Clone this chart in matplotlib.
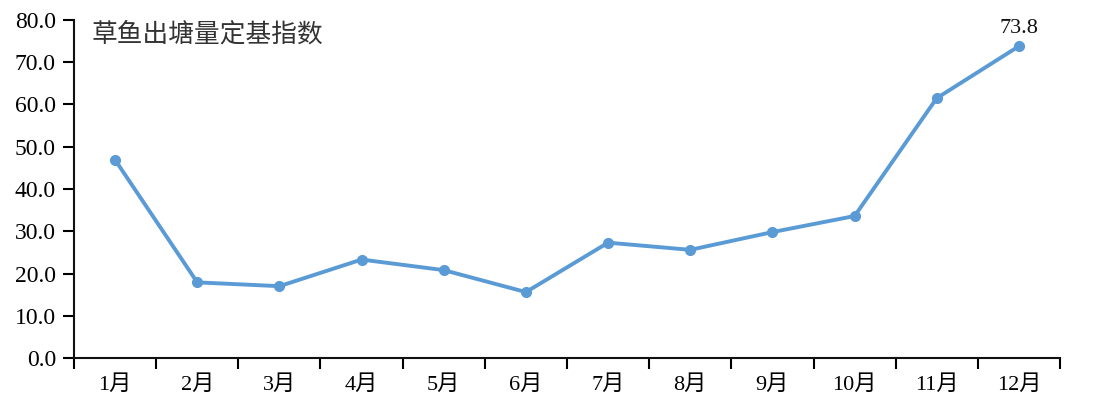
import numpy as np
import matplotlib.pyplot as plt

# data
months = ['1月', '2月', '3月', '4月', '5月', '6月', '7月', '8月', '9月', '10月', '11月', '12月']
index_vals = [46.9, 17.9, 17.0, 23.3, 20.8, 15.6, 27.3, 25.6, 29.8, 33.6, 61.5, 73.8]
y_ticks = [0, 10, 20, 30, 40, 50, 60, 70, 80]
title = '草鱼出塘量定基指数'

serif = ['Liberation Serif', 'Noto Sans CJK SC']
color = '#5B9BD5'

fig = plt.figure(figsize=(11.08, 4.19), dpi=100)
ax = fig.add_axes([74/1108, 61/419, 986/1108, 338/419])

x = np.arange(len(months))
ax.plot(x, index_vals, color=color, lw=2.8, marker='o', ms=7, zorder=3, clip_on=False)

# label on the last point
ax.annotate(f'{index_vals[-1]:.1f}', (x[-1], index_vals[-1]), xytext=(0, 6),
            textcoords='offset points', ha='center', va='bottom',
            fontsize=16, family=serif, color='#111111')

ax.set_xlim(-0.5, len(months) - 0.5)
ax.set_ylim(0, 80)

# ticks between categories, labels at centres
ax.set_xticks(np.arange(len(months) + 1) - 0.5)
ax.set_xticklabels([])
ax.set_xticks(x, minor=True)
ax.set_xticklabels(months, minor=True, fontsize=16, family=serif)
ax.tick_params(axis='x', which='minor', length=0, pad=12)
ax.tick_params(axis='x', which='major', length=8, width=1.5, direction='out')

ax.set_yticks(y_ticks)
ax.set_yticklabels([f'{v:.1f}' for v in y_ticks], fontsize=17, family=serif)
ax.tick_params(axis='y', length=8, width=1.5, direction='out', pad=5)

for s in ['top', 'right']:
    ax.spines[s].set_visible(False)
for s in ['left', 'bottom']:
    ax.spines[s].set_linewidth(1.5)
    ax.spines[s].set_color('#111111')

fig.text(92/1108, 1 - 35/419, title, fontsize=18.5, family=['Noto Sans CJK SC'],
         color='#333333', va='center', ha='left', fontweight='light')

fig.savefig('out.png', dpi=100)
